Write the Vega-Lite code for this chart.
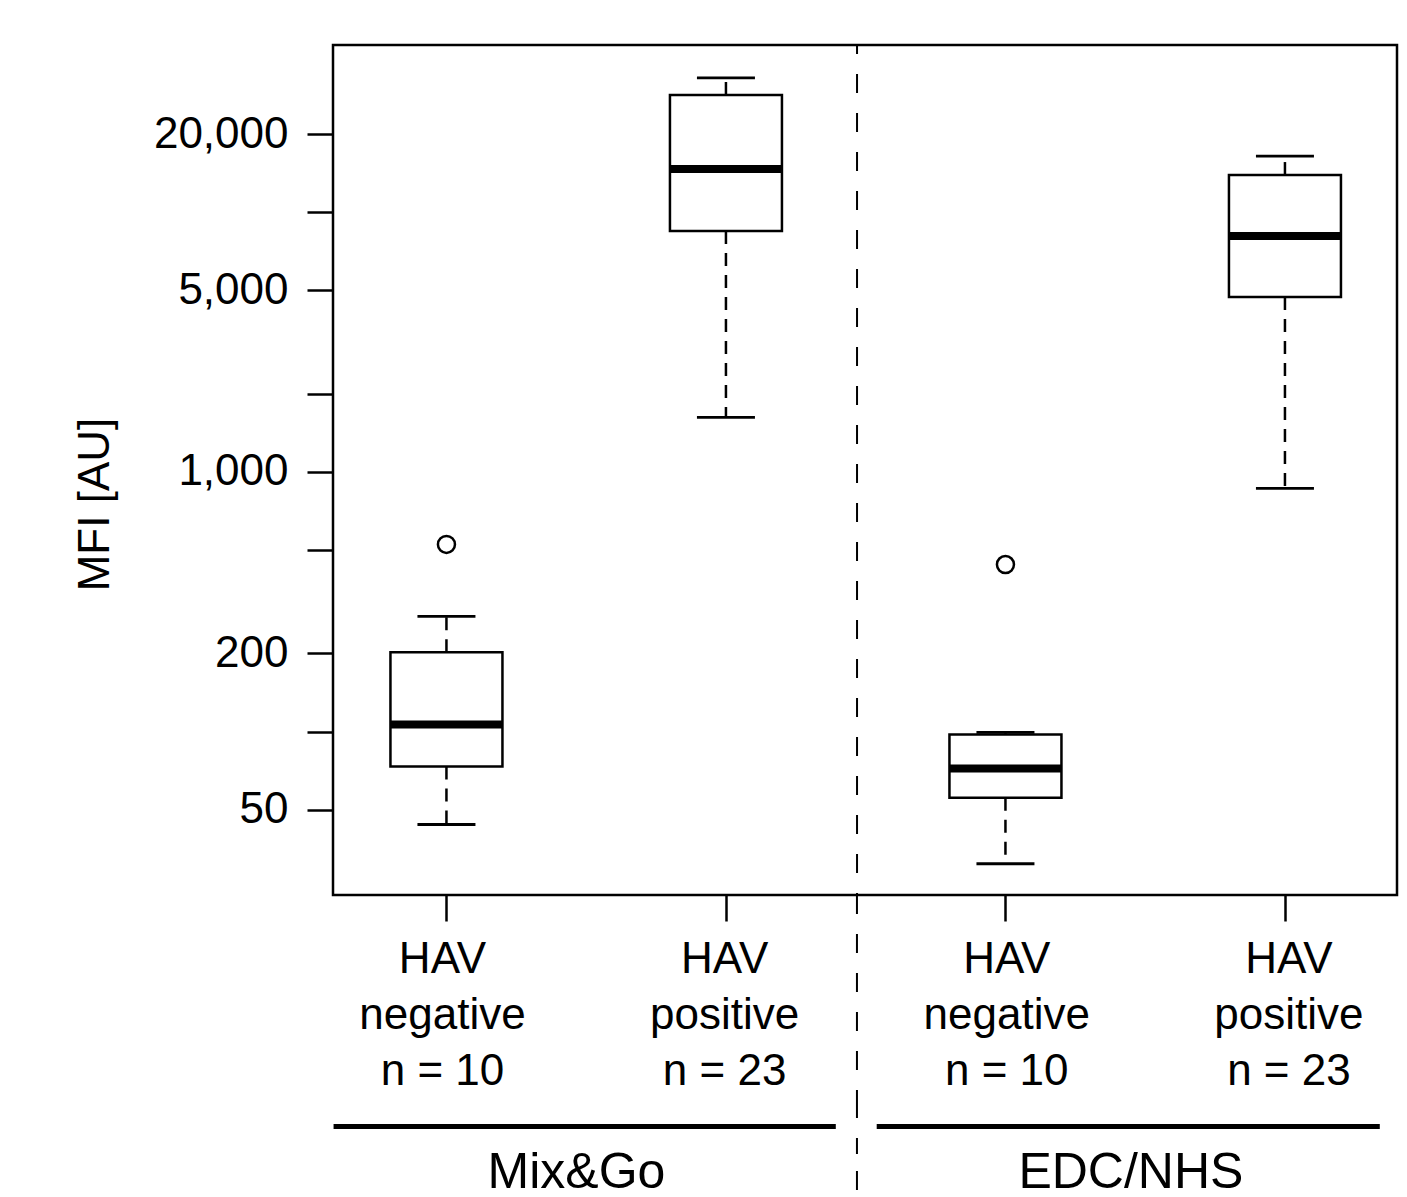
{
  "$schema": "https://vega.github.io/schema/vega-lite/v6.json",
  "padding": {"left": 71, "top": 42, "right": 0, "bottom": 0},
  "spacing": 0,
  "bounds": "flush",
  "config": {"font": "Liberation Sans", "view": {"stroke": null}},
  "datasets": {
    "boxes": [
      {"method": "Mix&Go", "group": "HAV negative", "n": 10, "label": "HAV\nnegative\nn = 10", "pos": 1, "lower": 43.9, "q1": 73.4, "median": 106.5, "q3": 202, "upper": 278},
      {"method": "Mix&Go", "group": "HAV positive", "n": 23, "label": "HAV\npositive\nn = 23", "pos": 2, "lower": 1623, "q1": 8457, "median": 14660, "q3": 28270, "upper": 32880},
      {"method": "EDC/NHS", "group": "HAV negative", "n": 10, "label": "HAV\nnegative\nn = 10", "pos": 3, "lower": 31.0, "q1": 55.7, "median": 72.1, "q3": 97.5, "upper": 99.3},
      {"method": "EDC/NHS", "group": "HAV positive", "n": 23, "label": "HAV\npositive\nn = 23", "pos": 4, "lower": 865, "q1": 4710, "median": 8090, "q3": 13900, "upper": 16450}
    ],
    "outliers": [
      {"method": "Mix&Go", "group": "HAV negative", "pos": 1, "value": 526},
      {"method": "EDC/NHS", "group": "HAV negative", "pos": 3, "value": 440}
    ],
    "methods": [
      {"method": "Mix&Go", "start": 0.614, "end": 2.394, "center": 1.475},
      {"method": "EDC/NHS", "start": 2.539, "end": 4.322, "center": 3.44}
    ]
  },
  "vconcat": [
    {
      "width": 1064,
      "height": 850,
      "view": {"stroke": "black", "strokeWidth": 2.5},
      "layer": [
        {
          "data": {"name": "boxes"},
          "mark": {"type": "rule", "strokeDash": [13, 9], "strokeWidth": 2.5, "color": "black"},
          "encoding": {
            "x": {"field": "pos", "type": "quantitative", "scale": {"domain": [0.612, 4.383], "nice": false, "zero": false},
              "axis": {"orient": "bottom", "values": [1, 2, 3, 4], "labels": false, "domain": false, "grid": false, "tickSize": 26,
                "tickColor": "black", "tickWidth": 2.5, "title": null}},
            "y": {"field": "q3", "type": "quantitative", "scale": {"type": "log", "domain": [23.5, 44030], "nice": false},
              "axis": {"values": [50, 100, 200, 500, 1000, 2000, 5000, 10000, 20000],
                "labelExpr": "indexof([50,200,1000,5000,20000], datum.value) >= 0 ? format(datum.value, ',') : ''",
                "labelFontSize": 44, "labelColor": "black", "labelPadding": 19, "labelOverlap": false, "labelFlush": false,
                "tickSize": 26, "tickWidth": 2.5, "tickColor": "black", "domain": false, "grid": false,
                "title": "MFI [AU]", "titleFontSize": 44, "titleFontWeight": "normal", "titleColor": "black", "titleX": -216, "titleY": 459}},
            "y2": {"field": "upper"}
          }
        },
        {
          "data": {"name": "boxes"},
          "mark": {"type": "rule", "strokeDash": [13, 9], "strokeWidth": 2.5, "color": "black"},
          "encoding": {
            "x": {"field": "pos", "type": "quantitative", "scale": {"domain": [0.612, 4.383], "nice": false, "zero": false}},
            "y": {"field": "q1", "type": "quantitative", "scale": {"type": "log", "domain": [23.5, 44030], "nice": false}},
            "y2": {"field": "lower"}
          }
        },
        {
          "data": {"name": "boxes"},
          "mark": {"type": "bar", "size": 112, "fill": "white", "stroke": "black", "strokeWidth": 2.5},
          "encoding": {
            "x": {"field": "pos", "type": "quantitative", "scale": {"domain": [0.612, 4.383], "nice": false, "zero": false}},
            "y": {"field": "q1", "type": "quantitative", "scale": {"type": "log", "domain": [23.5, 44030], "nice": false}},
            "y2": {"field": "q3"}
          }
        },
        {
          "data": {"name": "boxes"},
          "mark": {"type": "tick", "orient": "horizontal", "size": 58, "thickness": 2.8, "color": "black", "opacity": 1},
          "encoding": {
            "x": {"field": "pos", "type": "quantitative", "scale": {"domain": [0.612, 4.383], "nice": false, "zero": false}},
            "y": {"field": "upper", "type": "quantitative", "scale": {"type": "log", "domain": [23.5, 44030], "nice": false}}
          }
        },
        {
          "data": {"name": "boxes"},
          "mark": {"type": "tick", "orient": "horizontal", "size": 58, "thickness": 2.8, "color": "black", "opacity": 1},
          "encoding": {
            "x": {"field": "pos", "type": "quantitative", "scale": {"domain": [0.612, 4.383], "nice": false, "zero": false}},
            "y": {"field": "lower", "type": "quantitative", "scale": {"type": "log", "domain": [23.5, 44030], "nice": false}}
          }
        },
        {
          "data": {"name": "boxes"},
          "mark": {"type": "tick", "orient": "horizontal", "size": 112, "thickness": 8, "color": "black", "opacity": 1},
          "encoding": {
            "x": {"field": "pos", "type": "quantitative", "scale": {"domain": [0.612, 4.383], "nice": false, "zero": false}},
            "y": {"field": "median", "type": "quantitative", "scale": {"type": "log", "domain": [23.5, 44030], "nice": false}}
          }
        },
        {
          "data": {"name": "outliers"},
          "mark": {"type": "point", "shape": "circle", "size": 290, "filled": false, "stroke": "black", "strokeWidth": 2.5, "opacity": 1},
          "encoding": {
            "x": {"field": "pos", "type": "quantitative", "scale": {"domain": [0.612, 4.383], "nice": false, "zero": false}},
            "y": {"field": "value", "type": "quantitative", "scale": {"type": "log", "domain": [23.5, 44030], "nice": false}}
          }
        },
        {
          "data": {"values": [{}]},
          "mark": {"type": "rule", "strokeDash": [19, 20], "strokeDashOffset": 10, "strokeWidth": 2, "color": "black"},
          "encoding": {
            "x": {"datum": 2.469, "type": "quantitative", "scale": {"domain": [0.612, 4.383], "nice": false, "zero": false}}
          }
        }
      ]
    },
    {
      "width": 1064,
      "height": 86,
      "layer": [
        {
          "data": {"name": "boxes"},
          "mark": {"type": "text", "fontSize": 44, "lineHeight": 56, "lineBreak": "\n", "baseline": "top", "align": "center", "color": "black"},
          "encoding": {
            "x": {"field": "pos", "type": "quantitative", "scale": {"domain": [0.612, 4.383], "nice": false, "zero": false}, "axis": null},
            "text": {"field": "label"}
          }
        },
        {
          "data": {"values": [{}]},
          "mark": {"type": "rule", "strokeDash": [19, 20], "strokeWidth": 2, "color": "black"},
          "encoding": {
            "x": {"datum": 2.469, "type": "quantitative", "scale": {"domain": [0.612, 4.383], "nice": false, "zero": false}, "axis": null}
          }
        }
      ]
    },
    {
      "width": 1064,
      "height": 118,
      "layer": [
        {
          "data": {"values": [{}]},
          "mark": {"type": "rule", "strokeDash": [19, 20], "strokeDashOffset": 8, "strokeWidth": 2, "color": "black"},
          "encoding": {
            "x": {"datum": 2.469, "type": "quantitative", "scale": {"domain": [0.612, 4.383], "nice": false, "zero": false}, "axis": null}
          }
        }
      ]
    },
    {
      "width": 1064,
      "height": 55,
      "layer": [
        {
          "data": {"name": "methods"},
          "mark": {"type": "rule", "strokeWidth": 5, "color": "black", "strokeCap": "butt"},
          "encoding": {
            "x": {"field": "start", "type": "quantitative", "scale": {"domain": [0.612, 4.383], "nice": false, "zero": false}, "axis": null},
            "x2": {"field": "end"}
          }
        },
        {
          "data": {"values": [{}]},
          "mark": {"type": "rule", "strokeDash": [19, 20], "strokeWidth": 2, "color": "black"},
          "encoding": {
            "x": {"datum": 2.469, "type": "quantitative", "scale": {"domain": [0.612, 4.383], "nice": false, "zero": false}, "axis": null}
          }
        }
      ]
    },
    {
      "width": 1064,
      "height": 38,
      "layer": [
        {
          "data": {"name": "methods"},
          "mark": {"type": "text", "fontSize": 50, "baseline": "middle", "align": "center", "color": "black"},
          "encoding": {
            "x": {"field": "center", "type": "quantitative", "scale": {"domain": [0.612, 4.383], "nice": false, "zero": false}, "axis": null},
            "text": {"field": "method"}
          }
        },
        {
          "data": {"values": [{}]},
          "mark": {"type": "rule", "strokeDash": [19, 20], "strokeDashOffset": 22, "strokeWidth": 2, "color": "black"},
          "encoding": {
            "x": {"datum": 2.469, "type": "quantitative", "scale": {"domain": [0.612, 4.383], "nice": false, "zero": false}, "axis": null}
          }
        }
      ]
    }
  ]
}
